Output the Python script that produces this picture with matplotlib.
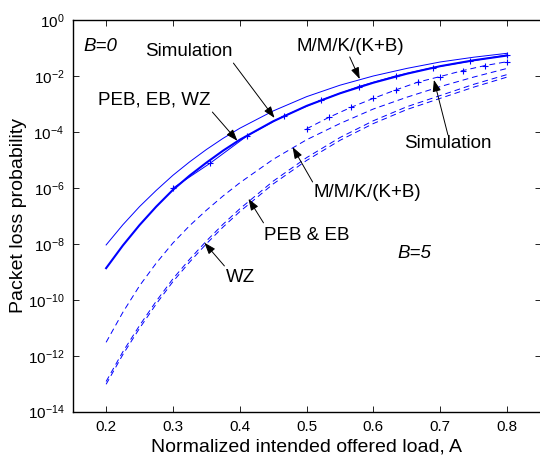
import numpy as np
import matplotlib
matplotlib.use('Agg')
import matplotlib.pyplot as plt

plt.rcParams['font.family'] = ['Liberation Sans', 'DejaVu Sans']
plt.rcParams['mathtext.fontset'] = 'custom'
plt.rcParams['mathtext.rm'] = 'Liberation Sans'
plt.rcParams['mathtext.it'] = 'Liberation Sans:italic'

# offered load grid for the analytical curves
load = [0.2, 0.225, 0.25, 0.275, 0.3, 0.325, 0.35, 0.375, 0.4,
        0.45, 0.5, 0.55, 0.6, 0.65, 0.7, 0.75, 0.8]

# log10 of packet loss probability
mmk_b0 = [-8.04, -7.32, -6.67, -6.09, -5.55, -5.07, -4.63, -4.23, -3.87,
          -3.25, -2.74, -2.33, -2.00, -1.73, -1.50, -1.33, -1.19]
peb_b0 = [-8.87, -8.06, -7.33, -6.67, -6.07, -5.56, -5.10, -4.67, -4.28,
          -3.62, -3.07, -2.62, -2.24, -1.92, -1.65, -1.44, -1.27]
mmk_b5 = [-11.52, -10.45, -9.50, -8.69, -7.97, -7.35, -6.80, -6.29, -5.82,
          -4.98, -4.28, -3.70, -3.18, -2.76, -2.38, -2.04, -1.73]
peb_b5 = [-12.92, -11.86, -10.92, -10.05, -9.25, -8.55, -7.90, -7.30, -6.75,
          -5.76, -4.92, -4.20, -3.60, -3.10, -2.70, -2.30, -1.95]
wz_b5 = [-13.02, -11.96, -11.02, -10.15, -9.35, -8.65, -8.00, -7.40, -6.85,
         -5.86, -5.02, -4.30, -3.70, -3.20, -2.80, -2.40, -2.04]

# simulation results
sim_load_b0 = [0.3, 0.3556, 0.4111, 0.4667, 0.5222, 0.5778, 0.6333, 0.6889, 0.7444, 0.8]
sim_b0 = [-6.01, -5.12, -4.14, -3.42, -2.86, -2.38, -2.00, -1.70, -1.475, -1.25]
sim_load_b5 = [0.5, 0.5333, 0.5667, 0.6, 0.6333, 0.6667, 0.7, 0.7333, 0.7667, 0.8]
sim_b5 = [-3.89, -3.48, -3.12, -2.80, -2.50, -2.22, -2.02, -1.81, -1.63, -1.49]

blue = '#0000ff'
dash = (6, 4)

fig = plt.figure(figsize=(5.4, 4.59), dpi=100)
ax = fig.add_axes([72.7 / 540, 1 - 411.7 / 459, (540.5 - 72.7) / 540, (411.7 - 20) / 459])

p = lambda v: np.power(10.0, v)

ax.plot(load, p(mmk_b0), color=blue, lw=0.7)
ax.plot(load, p(peb_b0), color=blue, lw=1.5)
ax.plot(sim_load_b0, p(sim_b0), color=blue, lw=0.7, marker='+', ms=5, mew=0.8)

ax.plot(load, p(mmk_b5), color=blue, lw=0.7, dashes=dash)
ax.plot(load, p(peb_b5), color=blue, lw=0.7, dashes=dash)
ax.plot(load, p(wz_b5), color=blue, lw=0.7, dashes=dash)
ax.plot(sim_load_b5, p(sim_b5), color=blue, lw=0.7, dashes=dash,
        marker='+', ms=5, mew=0.8)

ax.set_yscale('log')
ax.set_xlim(0.15, 0.85)
ax.set_ylim(1e-14, 1e0)
ax.set_xticks([0.2, 0.3, 0.4, 0.5, 0.6, 0.7, 0.8])
ax.set_xticklabels(['0.2', '0.3', '0.4', '0.5', '0.6', '0.7', '0.8'])
yt = [10.0 ** k for k in range(-14, 1, 2)]
ax.set_yticks(yt)
ax.set_yticklabels(['$10^{%d}$' % k if k == 0 else '$10^{\u2212%d}$' % -k
                    for k in range(-14, 1, 2)])
ax.yaxis.set_minor_locator(matplotlib.ticker.NullLocator())
ax.tick_params(direction='in', length=4, width=0.6, top=True, right=True,
               labelsize=11, pad=6)
for s in ax.spines.values():
    s.set_linewidth(1.0)

ax.set_xlabel('Normalized intended offered load, A', fontsize=14, labelpad=3)
ax.set_ylabel('Packet loss probability', fontsize=14)
ax.yaxis.set_label_coords(-0.098, 0.5)

fs = 13.5
ax.text(0.191, p(-0.93), 'B=0', fontsize=fs, style='italic', ha='center', va='center')
ax.text(0.6605, p(-8.36), 'B=5', fontsize=fs, style='italic', ha='center', va='center')

labels = [
    # text, text pos, arrow tail, arrow tip  (x, log10 y)
    ('Simulation', (0.3245, -1.14), (0.3905, -1.54), (0.452, -3.50)),
    ('PEB, EB, WZ', (0.272, -2.86), (0.359, -3.29), (0.3965, -4.32)),
    ('M/M/K/(K+B)', (0.566, -0.96), (0.5645, -1.32), (0.5795, -2.11)),
    ('Simulation', (0.7115, -4.43), (0.7115, -4.11), (0.6905, -2.14)),
    ('M/M/K/(K+B)', (0.5915, -6.18), (0.509, -5.79), (0.479, -4.54)),
    ('PEB & EB', (0.50, -7.71), (0.4355, -7.25), (0.413, -6.39)),
    ('WZ', (0.401, -9.21), (0.377, -8.79), (0.347, -7.96)),
]
for txt, tp, tail, tip in labels:
    ax.text(tp[0], p(tp[1]), txt, fontsize=fs, ha='center', va='center')
    ax.annotate('', xy=(tip[0], p(tip[1])), xytext=(tail[0], p(tail[1])),
                arrowprops=dict(arrowstyle='-|>,head_length=0.7,head_width=0.25',
                                color='k', lw=0.7, shrinkA=0, shrinkB=0))

fig.savefig('out.png', dpi=100)
